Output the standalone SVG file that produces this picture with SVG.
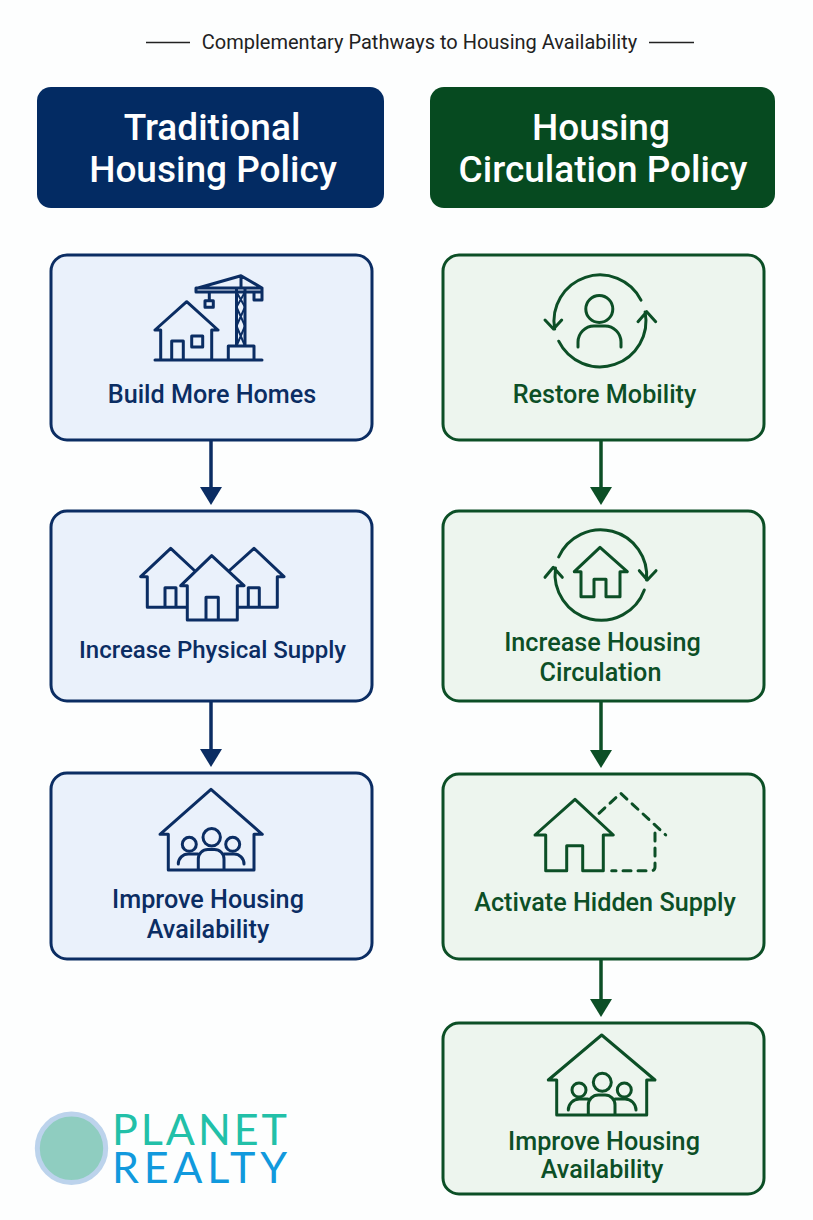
<svg xmlns="http://www.w3.org/2000/svg" width="813" height="1220" viewBox="0 0 813 1220">
<style>
text{font-family:"Roboto","Liberation Sans",sans-serif;text-anchor:middle}
.hd{font-size:37px;font-weight:500;fill:#fff}
.lb{font-size:25.200px;font-weight:500}
.bn{fill:#eaf1fb;stroke:#0b2d63;stroke-width:3}
.gn{fill:#edf5ee;stroke:#0c4f26;stroke-width:3}
.ib{fill:none;stroke:#0b2d63;stroke-width:3;stroke-linejoin:round;stroke-linecap:round}
.il{fill:none;stroke:#0b2d63;stroke-width:2;stroke-linejoin:round}
.ig{fill:none;stroke:#0c4f26;stroke-width:3;stroke-linejoin:round;stroke-linecap:round}
.tb{fill:#0b2d63}.tg{fill:#0c4f26}
.cb{stroke:#0b2d63;stroke-width:3.500;fill:none}.cg{stroke:#0c4f26;stroke-width:3.500;fill:none}
.ah{fill:#0b2d63}.ag{fill:#0c4f26}
.lg{font-family:Lato,sans-serif;text-anchor:start;font-size:43px}
</style>
<rect width="813" height="1220" fill="#fdfefe"/>
<g id="title">
<path d="M146 42.500H190M649 42.500H694" stroke="#222" stroke-width="1.500" fill="none"/>
<text x="419.500" y="49" font-size="20" fill="#222">Complementary Pathways to Housing Availability</text>
</g>
<g id="header-traditional"><rect x="37" y="87" width="347" height="121" rx="14" fill="#032b63"/><text class="hd" x="212" y="140">Traditional</text><text class="hd" x="213" y="182">Housing Policy</text></g>
<g id="header-circulation"><rect x="430" y="87" width="345" height="121" rx="14" fill="#064a20"/><text class="hd" x="601" y="140">Housing</text><text class="hd" x="603" y="182">Circulation Policy</text></g>
<g id="connectors">
<path class="cb" d="M211 440V488"/><path class="ah" d="M200 487H222L211 505Z"/>
<path class="cb" d="M211 701V750"/><path class="ah" d="M200 749H222L211 767Z"/>
<path class="cg" d="M601 440V488"/><path class="ag" d="M590 487H612L601 505Z"/>
<path class="cg" d="M601 701V751"/><path class="ag" d="M590 750H612L601 768Z"/>
<path class="cg" d="M601 959V1000"/><path class="ag" d="M590 999H612L601 1017Z"/>
</g>
<g id="node-build">
<rect class="bn" x="51" y="255" width="321" height="185" rx="16"/>
<path class="ib" d="M155 360H262M155 330L186.700 301.700L218 330M155 330H160.700V360M218 330H211.700V360M171.700 360V341H183.300V360M191.700 336H202.700V347H191.700ZM228.300 360V346H254V360M236.500 346V288M245 346V288M196 288H262V292H196ZM198 288L241 275.700L262 288M241 275.700V288M254 292V300H262V292M209.300 292V300.700M205 300.700H213.300V307.300H205Z"/>
<path class="il" d="M236.500 346L245 326L236.500 307L245 292M245 346L236.500 326L245 307L236.500 292"/>
<text class="lb tb" x="212" y="403">Build More Homes</text>
</g>
<g id="node-supply">
<rect class="bn" x="51" y="511" width="321" height="190" rx="16"/>
<path class="ib" d="M195 571L170.700 548.300L140.700 576.700H147.300V607.300H187.300M165 607.300V587.700H176V607.300M230 570L254 548.300L284 576.700H277.300V607.300H237.300M248.300 607.300V587.700H259.300V607.300M180.700 585.700L211.700 555.700L244 585.700H237.300V620H187.300V585.700ZM206 620V597.300H218.300V620"/>
<text class="lb tb" x="212.500" y="658" style="font-size:24px">Increase Physical Supply</text>
</g>
<g id="node-availability">
<rect class="bn" x="51" y="773" width="321" height="186" rx="16"/>
<path class="ib" d="M160 834.300L211 789.300L262.300 834.300H254V870H168.300V834.300ZM198.300 870V859A9.500 9.500 0 0 1 207.800 849.500H214.500A9.500 9.500 0 0 1 224 859V870M178.300 864A10 10 0 0 1 188.300 854H198M224 854H234A10 10 0 0 1 244 864"/>
<circle class="ib" cx="189.300" cy="844.300" r="7"/><circle class="ib" cx="211.700" cy="837.300" r="8.700"/><circle class="ib" cx="232.700" cy="844.300" r="7"/>
<text class="lb tb" x="208" y="908">Improve Housing</text><text class="lb tb" x="208" y="938">Availability</text>
</g>
<g id="node-mobility">
<rect class="gn" x="443" y="255" width="321" height="185" rx="16"/>
<path class="ig" d="M641 300.100A46 46 0 0 0 554.700 329M545 320L553.500 329L561.700 320M558.700 341.200A46 46 0 0 0 645.100 312M638 321.700L646.700 311.700L655.700 321.700M578 347V342A16 16 0 0 1 594 326H605A16 16 0 0 1 621 342V347"/>
<circle class="ig" cx="599.300" cy="309" r="13.500"/>
<text class="lb tg" x="604.500" y="403">Restore Mobility</text>
</g>
<g id="node-circulation">
<rect class="gn" x="443" y="511" width="321" height="190" rx="16"/>
<path class="ig" d="M558.700 557A46 46 0 0 1 646.500 580M639.300 570.700L647.300 580L656 570.700M644.300 590A46 46 0 0 1 555.500 568M545 577.300L553.300 567.300L562.300 577.300M574.300 571.700L600 547.300L627.300 571.700H620V596.700H606V579.300H594V596.700H581V571.700Z"/>
<text class="lb tg" x="602.500" y="651">Increase Housing</text><text class="lb tg" x="600.500" y="681">Circulation</text>
</g>
<g id="node-hidden">
<rect class="gn" x="443" y="774" width="321" height="185" rx="16"/>
<path class="ig" d="M535 835L575 799.300L613.300 835H603.300V870.700H582.700V845.700H566.700V870.700H545.700V835Z"/>
<path class="ig" stroke-dasharray="8 7" d="M599 813.300L620.700 793.300L665.700 835M655 833V866.700Q655 870.700 651 870.700H611.700"/>
<text class="lb tg" x="605" y="911">Activate Hidden Supply</text>
</g>
<g id="node-availability-2">
<rect class="gn" x="443" y="1023" width="321" height="171" rx="16"/>
<path class="ig" d="M548.300 1080L601.700 1035L655 1080H646.700V1115H556.700V1080ZM588.300 1115V1105A10 10 0 0 1 598.300 1095H605A10 10 0 0 1 615 1105V1115M568.300 1110A11 11 0 0 1 579.300 1099H588M615 1099H625A11 11 0 0 1 636 1110"/>
<circle class="ig" cx="579" cy="1090" r="7"/><circle class="ig" cx="602.300" cy="1082.300" r="9"/><circle class="ig" cx="624.300" cy="1090" r="7"/>
<text class="lb tg" x="604" y="1150">Improve Housing</text><text class="lb tg" x="602" y="1178">Availability</text>
</g>
<g id="logo">
<circle cx="71.500" cy="1148.300" r="34.200" fill="#8fcdc0" stroke="#bcd3ec" stroke-width="5"/>
<text class="lg" x="112" y="1145" textLength="175" lengthAdjust="spacing" fill="#22c0a8">PLANET</text>
<text class="lg" x="112" y="1183" textLength="175" lengthAdjust="spacing" fill="#1199dd">REALTY</text>
</g>
</svg>
